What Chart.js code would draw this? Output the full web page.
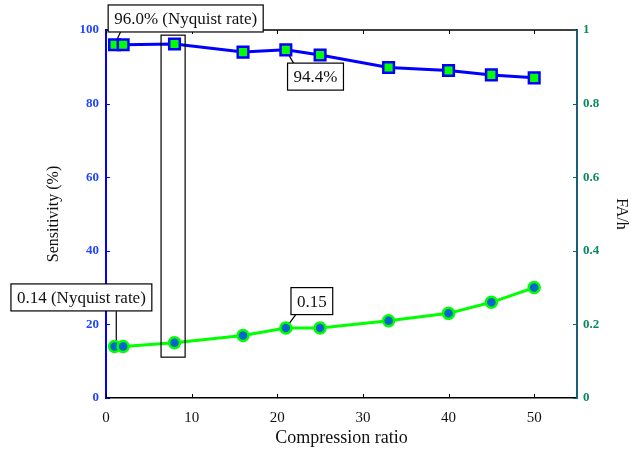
<!DOCTYPE html>
<html>
<head>
<meta charset="utf-8">
<script src="https://cdn.jsdelivr.net/npm/chart.js@4/dist/chart.umd.min.js"></script>
<style>
  html, body { margin: 0; padding: 0; background: #fff; }
</style>
</head>
<body>
<canvas id="chart" width="631" height="449"></canvas>
<script>
// data
const ratios = [1, 2, 8, 16, 21, 25, 33, 40, 45, 50];
const sensitivity = [96.0, 96.0, 96.2, 94.0, 94.6, 93.2, 89.8, 89.0, 87.8, 87.0];
const faPerHour = [0.14, 0.14, 0.15, 0.17, 0.19, 0.19, 0.21, 0.23, 0.26, 0.30];
const xTicks = [0, 10, 20, 30, 40, 50];
const leftTicks = [0, 20, 40, 60, 80, 100];
const rightTicks = [0, 0.2, 0.4, 0.6, 0.8, 1];
const notes = ['96.0% (Nyquist rate)', '94.4%', '0.14 (Nyquist rate)', '0.15'];

const SERIF = "'Liberation Serif', 'DejaVu Serif', serif";
const BLUE_TXT = '#1f45ff';
const GREEN_TXT = '#0a8a5c';
const TEAL = '#1a5e78';

// callouts, in data coordinates of the axis they refer to
const callouts = [
  { text: notes[0], axis: 'yL', left: 0.25, top: 106.8, from: [1.75, 99.7], to: [1, 96.0] },
  { text: notes[1], axis: 'yL', left: 21.2, top: 91.0, from: [21.9, 91.0], to: [21, 94.6] },
  { text: notes[2], axis: 'yR', left: -11.1, top: 0.31, from: [1.2, 0.236], to: [1.2, 0.14] },
  { text: notes[3], axis: 'yR', left: 21.6, top: 0.30, from: [22.2, 0.228], to: [21, 0.19] }
];
const highlight = { x0: 6.43, x1: 9.24, y0: 98.6, y1: 11.1 };

const calloutPlugin = {
  id: 'callouts',
  beforeDatasetsDraw(chart) {
    const { ctx, scales } = chart;
    ctx.save();
    ctx.strokeStyle = '#000';
    ctx.lineWidth = 1.2;
    callouts.forEach(c => {
      const ys = scales[c.axis];
      ctx.beginPath();
      ctx.moveTo(scales.x.getPixelForValue(c.from[0]), ys.getPixelForValue(c.from[1]));
      ctx.lineTo(scales.x.getPixelForValue(c.to[0]), ys.getPixelForValue(c.to[1]));
      ctx.stroke();
    });
    ctx.restore();
  },
  afterDatasetsDraw(chart) {
    const { ctx, scales, chartArea: a } = chart;
    const { x, yL, yR } = scales;
    ctx.save();
    // frame top line + inward ticks
    ctx.strokeStyle = '#000';
    ctx.lineWidth = 1.5;
    ctx.beginPath();
    ctx.moveTo(a.left, a.top);
    ctx.lineTo(a.right, a.top);
    ctx.stroke();
    ctx.lineWidth = 1;
    xTicks.forEach(v => {
      const px = Math.round(x.getPixelForValue(v)) + 0.5;
      ctx.beginPath();
      ctx.moveTo(px, a.bottom); ctx.lineTo(px, a.bottom - 4);
      ctx.moveTo(px, a.top); ctx.lineTo(px, a.top + 4);
      ctx.stroke();
    });
    ctx.strokeStyle = '#0000ff';
    leftTicks.forEach(v => {
      const py = Math.round(yL.getPixelForValue(v)) + 0.5;
      ctx.beginPath(); ctx.moveTo(a.left, py); ctx.lineTo(a.left + 4, py); ctx.stroke();
    });
    ctx.strokeStyle = TEAL;
    rightTicks.forEach(v => {
      const py = Math.round(yR.getPixelForValue(v)) + 0.5;
      ctx.beginPath(); ctx.moveTo(a.right, py); ctx.lineTo(a.right - 4, py); ctx.stroke();
    });

    // highlight rectangle around ratio 8
    ctx.strokeStyle = '#000';
    ctx.lineWidth = 1.2;
    const rx0 = x.getPixelForValue(highlight.x0), rx1 = x.getPixelForValue(highlight.x1);
    const ry0 = yL.getPixelForValue(highlight.y0), ry1 = yL.getPixelForValue(highlight.y1);
    ctx.strokeRect(rx0, ry0, rx1 - rx0, ry1 - ry0);

    // text boxes
    ctx.font = '17px ' + SERIF;
    ctx.textBaseline = 'middle';
    ctx.textAlign = 'left';
    callouts.forEach(c => {
      const bx = x.getPixelForValue(c.left);
      const by = scales[c.axis].getPixelForValue(c.top);
      const w = ctx.measureText(c.text).width + 12;
      const h = 27;
      ctx.fillStyle = '#fff';
      ctx.fillRect(bx, by, w, h);
      ctx.strokeStyle = '#000';
      ctx.lineWidth = 1.2;
      ctx.strokeRect(bx, by, w, h);
      ctx.fillStyle = '#111';
      ctx.fillText(c.text, bx + 6, by + h / 2 + 1);
    });
    ctx.restore();
  }
};

new Chart(document.getElementById('chart'), {
  type: 'line',
  data: {
    datasets: [
      {
        label: 'Sensitivity',
        data: ratios.map((r, i) => ({ x: r, y: sensitivity[i] })),
        yAxisID: 'yL',
        borderColor: '#0000ff',
        borderWidth: 3,
        pointStyle: 'rect',
        pointRadius: 7.5,
        pointBackgroundColor: '#00ff00',
        pointBorderColor: '#0000ff',
        pointBorderWidth: 2.5
      },
      {
        label: 'FA/h',
        data: ratios.map((r, i) => ({ x: r, y: faPerHour[i] })),
        yAxisID: 'yR',
        borderColor: '#00ff00',
        borderWidth: 3,
        pointStyle: 'circle',
        pointRadius: 5.5,
        pointBackgroundColor: '#0066cc',
        pointBorderColor: '#00ff00',
        pointBorderWidth: 2.5
      }
    ]
  },
  options: {
    responsive: false,
    animation: false,
    layout: { padding: { top: 30, left: 0, right: 0, bottom: 0 } },
    plugins: { legend: { display: false }, tooltip: { enabled: false } },
    scales: {
      x: {
        type: 'linear',
        position: 'bottom',
        min: 0,
        max: 55,
        afterBuildTicks: s => { s.ticks = xTicks.map(v => ({ value: v })); },
        afterFit: s => { s.height = 51; },
        grid: { display: false, drawTicks: false },
        border: { color: '#000', width: 1.5 },
        ticks: { color: '#111', padding: 11, font: { family: SERIF, size: 15 } },
        title: { display: true, text: 'Compression ratio', color: '#111', padding: { top: 0, bottom: 0 }, font: { family: SERIF, size: 18 } }
      },
      yL: {
        type: 'linear',
        position: 'left',
        min: 0,
        max: 100,
        afterBuildTicks: s => { s.ticks = leftTicks.map(v => ({ value: v })); },
        afterFit: s => { s.width = 106; },
        grid: { display: false, drawTicks: false },
        border: { color: '#0000ff', width: 2 },
        ticks: { color: BLUE_TXT, padding: 7, font: { family: SERIF, size: 13, weight: 'bold' } },
        title: { display: true, text: 'Sensitivity (%)', color: '#111', padding: { top: 44, bottom: 0 }, font: { family: SERIF, size: 16 } }
      },
      yR: {
        type: 'linear',
        position: 'right',
        min: 0,
        max: 1,
        afterBuildTicks: s => { s.ticks = rightTicks.map(v => ({ value: v })); },
        afterFit: s => { s.width = 54; },
        grid: { display: false, drawTicks: false },
        border: { color: TEAL, width: 2 },
        ticks: { color: GREEN_TXT, padding: 6, callback: v => String(v), font: { family: SERIF, size: 13, weight: 'bold' } },
        title: { display: true, text: 'FA/h', color: '#111', padding: { top: 0, bottom: 0 }, font: { family: SERIF, size: 16 } }
      }
    }
  },
  plugins: [calloutPlugin]
});
</script>
</body>
</html>
